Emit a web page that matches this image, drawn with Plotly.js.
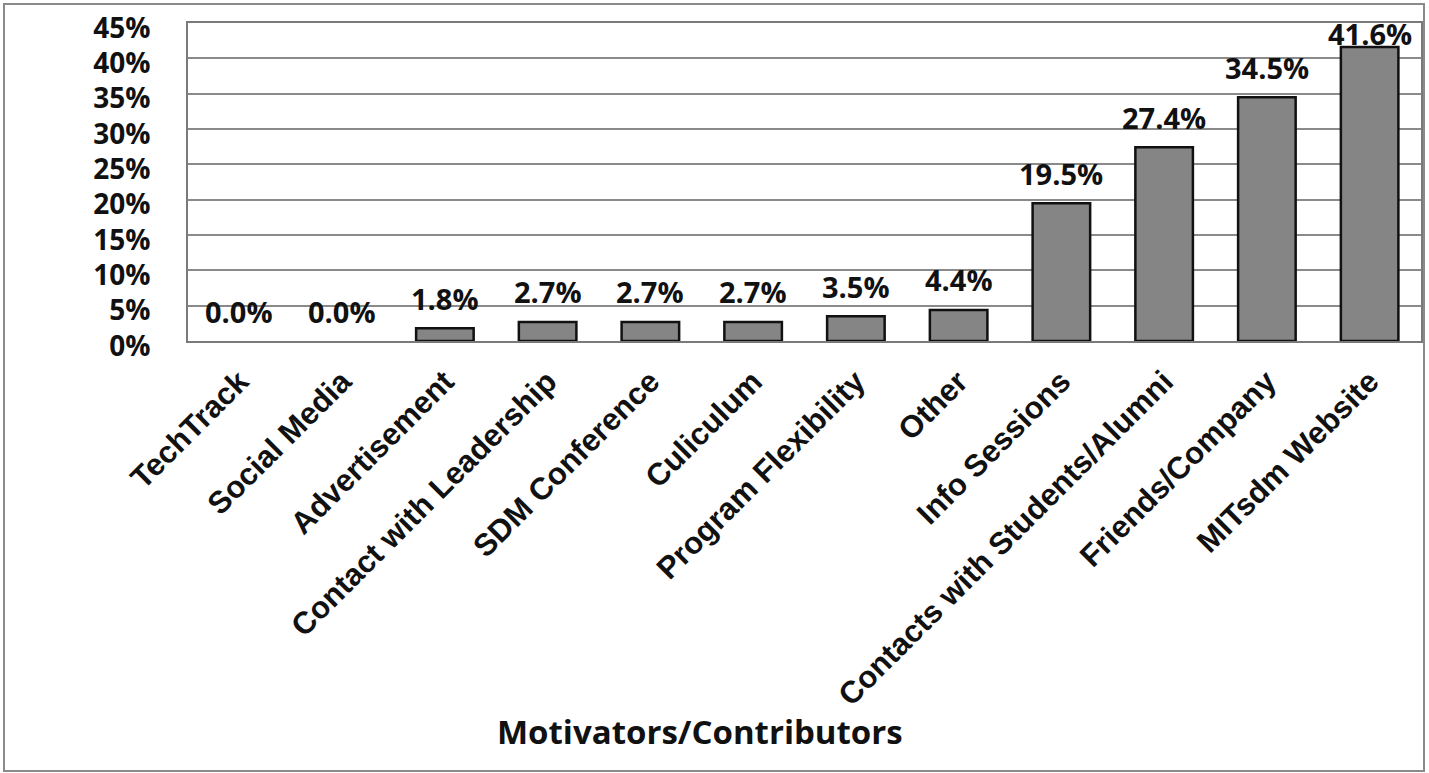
<!DOCTYPE html>
<html>
<head>
<meta charset="utf-8">
<script src="https://cdn.plot.ly/plotly-3.0.1.min.js"></script>
<style>
  html, body { margin: 0; padding: 0; background: #fff; }
  #chart { width: 1429px; height: 773px; }
</style>
</head>
<body>
<div id="chart"></div>
<script>
// Share of respondents naming each motivator / contributor
const categories = [
  'TechTrack', 'Social Media', 'Advertisement', 'Contact with Leadership',
  'SDM Conference', 'Culiculum', 'Program Flexibility', 'Other',
  'Info Sessions', 'Contacts with Students/Alumni', 'Friends/Company', 'MITsdm Website'
];
const shares = [0.000, 0.000, 0.018, 0.027, 0.027, 0.027, 0.035, 0.044, 0.195, 0.274, 0.345, 0.416];
const yTickValues = [0, 0.05, 0.10, 0.15, 0.20, 0.25, 0.30, 0.35, 0.40, 0.45];
const yTickLabels = ['0%', '5%', '10%', '15%', '20%', '25%', '30%', '35%', '40%', '45%'];
const axisTitle = 'Motivators/Contributors';

const W = 1429, H = 773;
const margin = { l: 188, r: 8, t: 23, b: 432 };
const yMax = 0.45;
const plotH = H - margin.t - margin.b;
const plotW = W - margin.l - margin.r;

const labelFont = { family: 'Open Sans, sans-serif', size: 29, color: '#111', weight: 700 };

// Value labels sit ~30px above each bar, pulled down if they would leave the plot
const valueLabels = categories.map((c, i) => {
  const v = shares[i];
  const barTopPx = plotH * (v / yMax);          // distance from baseline
  const room = plotH - barTopPx - 10;            // space left up to the frame
  const shift = Math.min(30, room);
  return {
    x: c, y: v, xref: 'x', yref: 'y',
    text: (v * 100).toFixed(1) + '%',
    showarrow: false, yanchor: 'middle', yshift: shift,
    font: labelFont
  };
});

const px = (p) => (p - margin.l) / plotW;
const py = (p) => (H - margin.b - p) / plotH;

const annotations = valueLabels.concat([{
  text: axisTitle, xref: 'paper', yref: 'paper',
  x: px(700), y: py(731), showarrow: false,
  xanchor: 'center', yanchor: 'middle',
  font: { family: 'Open Sans, sans-serif', size: 33, color: '#111', weight: 700 }
}]);

const trace = {
  type: 'bar',
  x: categories,
  y: shares,
  marker: {
    color: '#858585',
    // empty bars get no outline so nothing is drawn for them
    line: { color: '#111', width: shares.map(v => (v > 0 ? 2.5 : 0)) }
  },
  hoverinfo: 'x+y'
};

const layout = {
  width: W, height: H,
  margin: margin,
  paper_bgcolor: '#fff', plot_bgcolor: '#fff',
  bargap: 0.44,
  showlegend: false,
  xaxis: {
    type: 'category',
    tickangle: -45,
    tickfont: { family: 'Liberation Sans, Arial, sans-serif', size: 31, color: '#111', weight: 700 },
    ticklabelstandoff: 8,
    showgrid: false, zeroline: false,
    showline: true, linecolor: '#7a7a7a', linewidth: 2, mirror: true,
    ticks: '', automargin: false
  },
  yaxis: {
    range: [0, yMax],
    tickvals: yTickValues, ticktext: yTickLabels,
    tickfont: { family: 'Open Sans, sans-serif', size: 28, color: '#111', weight: 700 },
    ticklabelstandoff: 30,
    ticklabelshift: 5,
    showgrid: true, gridcolor: '#8a8a8a', gridwidth: 2,
    zeroline: false,
    showline: true, linecolor: '#7a7a7a', linewidth: 2, mirror: true,
    ticks: '', automargin: false
  },
  shapes: [{
    type: 'rect', xref: 'paper', yref: 'paper',
    x0: px(4), x1: px(1424), y0: py(771), y1: py(4),
    line: { color: '#8a8a8a', width: 2 }, fillcolor: 'rgba(0,0,0,0)', layer: 'below'
  }],
  annotations: annotations
};

Plotly.newPlot('chart', [trace], layout, { staticPlot: true, displayModeBar: false });
</script>
</body>
</html>
